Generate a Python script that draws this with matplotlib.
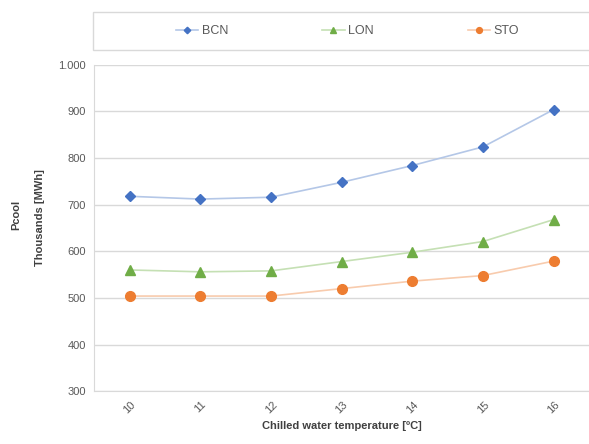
import matplotlib.pyplot as plt
from matplotlib.patches import Rectangle
from matplotlib.ticker import FuncFormatter

plt.rcParams['font.family'] = ['Liberation Sans', 'DejaVu Sans']

# DATA
temps = ['10', '11', '12', '13', '14', '15', '16']
bcn = [718, 712, 716, 748, 784, 824, 904]
lon = [560, 556, 558, 578, 598, 621, 668]
sto = [504, 504, 504, 520, 536, 548, 579]

series = [
    ('BCN', bcn, '#4472C4', '#B4C7E7', 'D', 5.5),
    ('LON', lon, '#70AD47', '#C5E0B4', '^', 7),
    ('STO', sto, '#ED7D31', '#F8CBAD', 'o', 7),
]

fig = plt.figure(figsize=(5.89, 4.44), dpi=100)
ax = fig.add_axes([0.16, 0.119, 0.84, 0.735])

x = list(range(len(temps)))
for name, vals, mc, lc, mk, ms in series:
    ax.plot(x, vals, color=lc, lw=1.2, marker=mk, markersize=ms,
            markerfacecolor=mc, markeredgecolor=mc, label=name, zorder=3)

ax.set_xlim(-0.5, len(temps) - 0.5)
ax.set_ylim(300, 1000)
ax.set_yticks(range(300, 1001, 100))
ax.yaxis.set_major_formatter(FuncFormatter(lambda v, p: f'{int(v):,}'.replace(',', '.')))
ax.set_xticks(x)
ax.set_xticklabels(temps, rotation=45)
ax.grid(axis='y', color='#D9D9D9', lw=1)
ax.set_axisbelow(True)
for s in ['top', 'right']:
    ax.spines[s].set_visible(False)
for s in ['left', 'bottom']:
    ax.spines[s].set_color('#D9D9D9')
ax.tick_params(length=0, colors='#595959', labelsize=8, pad=6)

ax.set_xlabel('Chilled water temperature [ºC]', fontsize=8, fontweight='bold',
              color='#404040', labelpad=4)
fig.text(0.028, 0.515, 'Pcool', rotation=90, fontsize=8, fontweight='bold',
         color='#404040', ha='center', va='center')
fig.text(0.068, 0.51, 'Thousands [MWh]', rotation=90, fontsize=8, fontweight='bold',
         color='#404040', ha='center', va='center')

# legend box
fig.patches.append(Rectangle((0.158, 0.887), 0.85, 0.086, transform=fig.transFigure,
                             facecolor='white', edgecolor='#D9D9D9', lw=1))
fig.legend(loc='center', bbox_to_anchor=(0.59, 0.93), ncol=3, frameon=False,
           fontsize=9, columnspacing=7.5, handlelength=1.8, handletextpad=0.3,
           markerscale=0.6, labelcolor='#595959')

fig.savefig('out.png', dpi=100)
